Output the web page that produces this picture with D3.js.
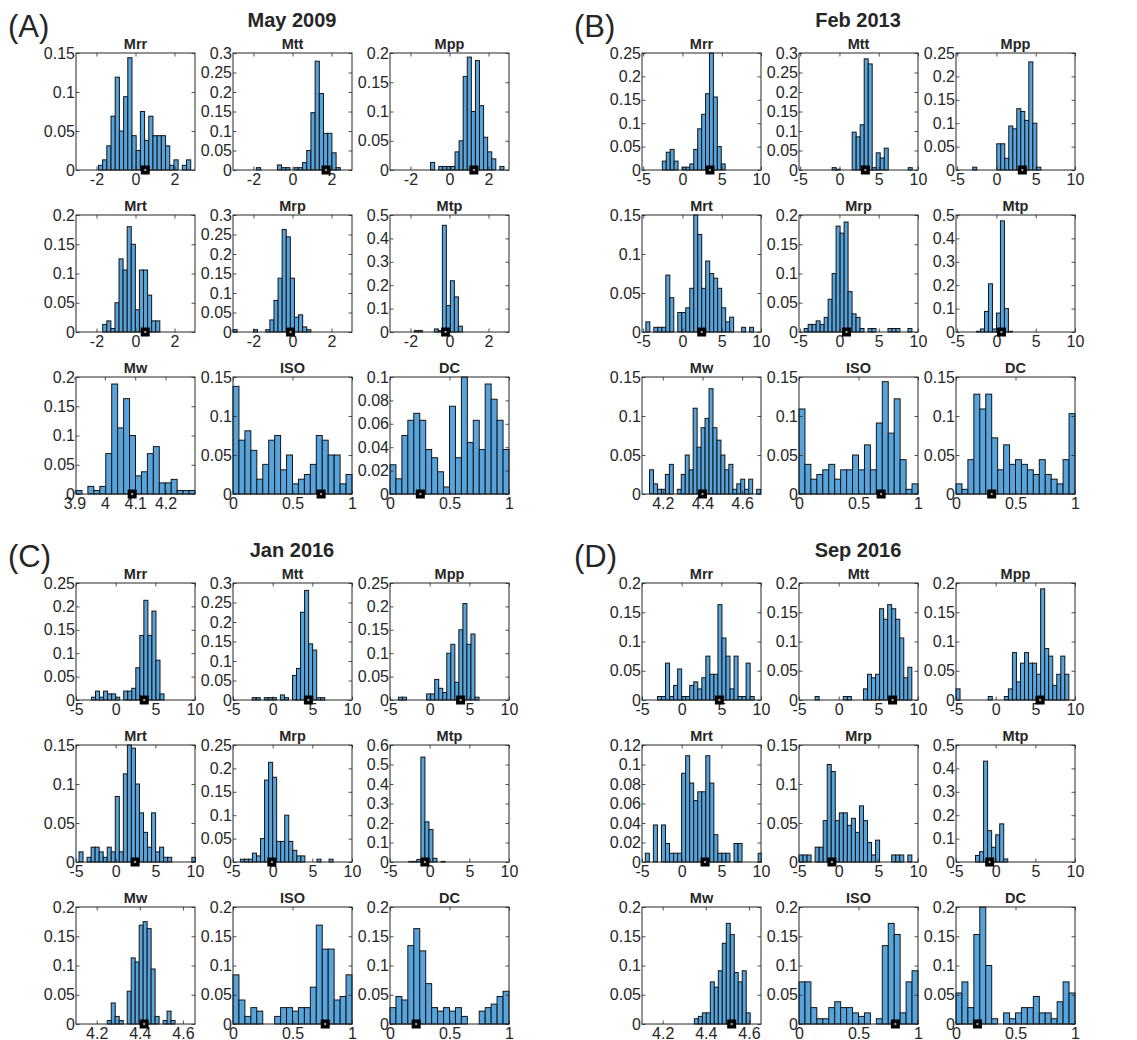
<!DOCTYPE html>
<html>
<head>
<meta charset="utf-8">
<script src="https://cdn.jsdelivr.net/npm/d3@7"></script>
<style>
  body { margin: 0; background: #fff; }
  text { font-family: "Liberation Sans", Arial, Helvetica, sans-serif; fill: #262626; }
</style>
</head>
<body>
<div id="container"></div>
<script>
// ---- data ----
var components = ["Mrr", "Mtt", "Mpp", "Mrt", "Mrp", "Mtp", "Mw", "ISO", "DC"];
var panelLabels = ["(A)", "(B)", "(C)", "(D)"];
var panelTitles = ["May 2009", "Feb 2013", "Jan 2016", "Sep 2016"];

// x tick labels
var momentTicksA = [-2, 0, 2];
var momentTicks = [-5, 0, 5, 10];
var mwTicksA = [3.9, 4, 4.1, 4.2];
var mwTicks = [4.2, 4.4, 4.6];
var fracTicks = [0, 0.5, 1];

// x limits
var momentDomainA = [-3.05, 3.05];
var momentDomainB = [-5.15, 10];
var momentDomainCD = [-5, 10];
var mwDomainA = [3.905, 4.297];
var mwDomainB = [4.095, 4.695];
var mwDomainCD = [4.104, 4.656];
var fracDomain = [0, 1];

// (A) May 2009
var binStartA = [-1.9, -1.85, -0.97, -1.68, -3.05, -1.8, 3.905, 0, 0];
var binWidthA = [0.215, 0.215, 0.209, 0.209, 0.21, 0.205, 0.0196, 0.05, 0.05];
var probA = [
  [0.006, 0.013, 0.031, 0.069, 0.119, 0.05, 0.094, 0.144, 0.044, 0.025, 0.075, 0.038, 0.069, 0.044, 0.044, 0.044, 0.031, 0.006, 0.013, 0, 0.006, 0.013],
  [0.006, 0, 0, 0, 0, 0.013, 0.006, 0.006, 0, 0.006, 0.006, 0.019, 0.05, 0.147, 0.279, 0.196, 0.094, 0.094, 0.044, 0.006],
  [0.013, 0, 0.006, 0.006, 0.006, 0.006, 0.031, 0.05, 0.16, 0.193, 0.1, 0.187, 0.11, 0.056, 0.031, 0.019, 0, 0.006],
  [0.013, 0.019, 0.006, 0.05, 0.125, 0.106, 0.18, 0.15, 0.038, 0.106, 0.106, 0.063, 0.019, 0.019],
  [0.006, 0, 0, 0, 0, 0.006, 0, 0, 0.006, 0.031, 0.081, 0.138, 0.263, 0.244, 0.138, 0.038, 0.044, 0.013, 0.006],
  [0.006, 0.006, 0, 0, 0, 0.013, 0.006, 0.456, 0.113, 0.219, 0.15, 0.025],
  [0.006, 0, 0.013, 0.006, 0.013, 0.069, 0.188, 0.113, 0.163, 0.1, 0.031, 0.038, 0.069, 0.081, 0.019, 0.019, 0.025, 0.006, 0.006, 0.006],
  [0.138, 0.069, 0.081, 0.056, 0.019, 0.038, 0.069, 0.075, 0.031, 0.05, 0.013, 0.019, 0.025, 0.038, 0.075, 0.069, 0.05, 0.05, 0.013, 0.025],
  [0.025, 0.013, 0.05, 0.063, 0.069, 0.063, 0.038, 0.031, 0.019, 0.006, 0.075, 0.031, 0.1, 0.044, 0.063, 0.038, 0.094, 0.081, 0.063, 0.038]
];
var bestA = [0.5, 1.72, 1.25, 0.5, -0.1, -0.2, 4.09, 0.74, 0.255];
var yMaxA = [0.15, 0.3, 0.2, 0.2, 0.3, 0.5, 0.2, 0.15, 0.1];
var yStepA = [0.05, 0.05, 0.05, 0.05, 0.05, 0.1, 0.05, 0.05, 0.02];

// (B) Feb 2013
var binStartB = [-2.56, -0.93, -3.02, -4.66, -4.49, -2.54, 4.133, 0, 0];
var binWidthB = [0.5, 0.51, 0.51, 0.508, 0.508, 0.508, 0.02, 0.05, 0.05];
var probB = [
  [0.019, 0.038, 0.044, 0.019, 0, 0.006, 0.006, 0.013, 0.044, 0.088, 0.119, 0.163, 0.25, 0.156, 0.05, 0.013],
  [0.006, 0.002, 0, 0, 0, 0.097, 0.085, 0.116, 0.285, 0.272, 0.006, 0.044, 0.031, 0.056, 0, 0, 0, 0, 0, 0.006],
  [0.006, 0, 0, 0, 0, 0, 0.056, 0.056, 0.025, 0.094, 0.088, 0.131, 0.125, 0.106, 0.231, 0.1, 0.006],
  [0.013, 0, 0.006, 0.006, 0.006, 0.073, 0.044, 0, 0.025, 0.025, 0.031, 0.056, 0.15, 0.125, 0.056, 0.091, 0.075, 0.069, 0.056, 0.031, 0.013, 0.019, 0, 0, 0.006, 0, 0.006],
  [0.006, 0.013, 0.013, 0.019, 0.013, 0.025, 0.056, 0.1, 0.181, 0.169, 0.188, 0.069, 0.031, 0.025, 0.006, 0, 0.006, 0.006, 0, 0, 0, 0.006, 0.006, 0.006, 0, 0, 0.006],
  [0.003, 0.013, 0.088, 0.206, 0.013, 0.081, 0.475, 0.1, 0.003],
  [0.031, 0.013, 0.006, 0.006, 0.025, 0.038, 0, 0.006, 0.025, 0.05, 0.031, 0.11, 0.06, 0.085, 0.097, 0.135, 0.085, 0.069, 0.05, 0.031, 0.038, 0.006, 0.013, 0.019, 0.006, 0.019, 0, 0.006],
  [0.109, 0.038, 0.019, 0.025, 0.031, 0.038, 0.019, 0.031, 0.031, 0.05, 0.031, 0.063, 0.031, 0.091, 0.144, 0.078, 0.122, 0.044, 0.006, 0.013],
  [0.013, 0.006, 0.044, 0.128, 0.109, 0.128, 0.072, 0.031, 0.063, 0.038, 0.044, 0.038, 0.031, 0.025, 0.044, 0.025, 0.019, 0.013, 0.044, 0.103]
];
var bestB = [3.5, 3.3, 3.3, 2.45, 0.9, 0.64, 4.4, 0.69, 0.3];
var yMaxB = [0.25, 0.3, 0.25, 0.15, 0.2, 0.5, 0.15, 0.15, 0.15];
var yStepB = [0.05, 0.05, 0.05, 0.05, 0.05, 0.1, 0.05, 0.05, 0.05];

// (C) Jan 2016
var binStartC = [-3.05, -2.58, -3.94, -4.62, -4.07, -2.63, 4.249, 0, 0];
var binWidthC = [0.508, 0.508, 0.508, 0.508, 0.508, 0.508, 0.0185, 0.05, 0.05];
var probC = [
  [0.006, 0.019, 0.006, 0.019, 0.013, 0.013, 0.006, 0, 0.019, 0.019, 0.025, 0.069, 0.138, 0.213, 0.138, 0.19, 0.085, 0.013],
  [0.006, 0.006, 0, 0.006, 0.006, 0.006, 0, 0.013, 0.006, 0, 0.063, 0.081, 0.225, 0.281, 0.144, 0.128, 0.006, 0.006],
  [0.006, 0.006, 0, 0, 0, 0, 0, 0.013, 0.013, 0.044, 0.025, 0.016, 0.1, 0.119, 0.038, 0.15, 0.206, 0.119, 0.141, 0.006],
  [0.013, 0, 0.006, 0.019, 0.019, 0.013, 0.006, 0.019, 0.013, 0.084, 0.013, 0.113, 0.15, 0.146, 0.1, 0.063, 0.038, 0.019, 0.063, 0.013, 0.019, 0.006, 0.006, 0, 0, 0, 0, 0, 0.006],
  [0.006, 0.006, 0.006, 0.019, 0.013, 0.05, 0.175, 0.213, 0.181, 0.044, 0.044, 0.1, 0.044, 0.025, 0.013, 0.013, 0, 0, 0, 0.006, 0, 0, 0.006],
  [0.003, 0.003, 0.013, 0.538, 0.206, 0.166, 0.019, 0, 0.003],
  [0.006, 0.036, 0.013, 0.006, 0, 0.056, 0.113, 0.106, 0.169, 0.175, 0.163, 0.094, 0.013, 0, 0.006, 0.022, 0.006],
  [0.084, 0.041, 0.013, 0.028, 0.022, 0, 0, 0.013, 0.028, 0.028, 0.022, 0.028, 0.028, 0.063, 0.169, 0.128, 0.128, 0.041, 0.047, 0.084],
  [0.028, 0.047, 0.041, 0.134, 0.163, 0.125, 0.069, 0.028, 0.022, 0.028, 0.022, 0.028, 0.013, 0, 0, 0.022, 0.028, 0.034, 0.047, 0.056]
];
var bestC = [3.6, 4.5, 3.9, 2.45, -0.1, -0.6, 4.42, 0.775, 0.22];
var yMaxC = [0.25, 0.3, 0.25, 0.15, 0.25, 0.6, 0.2, 0.2, 0.2];
var yStepC = [0.05, 0.05, 0.05, 0.05, 0.05, 0.1, 0.05, 0.05, 0.05];

// (D) Sep 2016
var binStartD = [-3.05, -2.97, -5.0, -4.58, -5.0, -2.54, 4.347, 0, 0];
var binWidthD = [0.508, 0.508, 0.508, 0.508, 0.508, 0.508, 0.0185, 0.05, 0.05];
var probD = [
  [0.006, 0.006, 0.063, 0.006, 0.025, 0.053, 0.006, 0.006, 0.025, 0.031, 0.019, 0.038, 0.075, 0.044, 0.044, 0.163, 0.106, 0.075, 0.019, 0.075, 0.006, 0.006, 0.063, 0.006],
  [0.006, 0, 0, 0, 0, 0, 0, 0.006, 0.006, 0, 0, 0, 0.019, 0.044, 0.038, 0.044, 0.156, 0.138, 0.163, 0.156, 0.138, 0.106, 0.038, 0.056],
  [0.019, 0, 0, 0, 0, 0, 0, 0, 0.006, 0, 0, 0, 0.006, 0.019, 0.081, 0.031, 0.063, 0.081, 0.063, 0.063, 0.044, 0.19, 0.088, 0.075, 0.025, 0.044, 0.075, 0.044],
  [0.009, 0, 0.038, 0, 0.038, 0.019, 0.009, 0.009, 0.009, 0.091, 0.109, 0.081, 0.063, 0.072, 0.072, 0.109, 0.081, 0.028, 0.009, 0.009, 0.009, 0, 0.019, 0.019, 0, 0, 0, 0, 0.009],
  [0.009, 0.009, 0.009, 0, 0.019, 0.019, 0.053, 0.125, 0.116, 0.053, 0.063, 0.063, 0.047, 0.056, 0.038, 0.072, 0.053, 0.025, 0.009, 0.028, 0, 0, 0, 0.009, 0.009, 0.009, 0, 0.009],
  [0.028, 0.044, 0.431, 0.134, 0.063, 0.116, 0.163, 0.013],
  [0.009, 0.013, 0.019, 0.019, 0.072, 0.063, 0.091, 0.138, 0.172, 0.153, 0.088, 0.072, 0.091, 0.019],
  [0.072, 0.072, 0.028, 0.009, 0.009, 0.028, 0.038, 0.028, 0.028, 0.019, 0.013, 0.019, 0, 0.009, 0.134, 0.172, 0.153, 0.019, 0.072, 0.091],
  [0.053, 0.072, 0.028, 0.153, 0.2, 0.1, 0.009, 0, 0.019, 0.009, 0.019, 0.028, 0.028, 0.047, 0.019, 0.019, 0.009, 0.038, 0.072, 0.053]
];
var bestD = [4.75, 6.8, 5.6, 2.95, -0.85, -0.76, 4.52, 0.81, 0.18];
var yMaxD = [0.2, 0.2, 0.2, 0.12, 0.15, 0.5, 0.2, 0.2, 0.2];
var yStepD = [0.05, 0.05, 0.05, 0.02, 0.05, 0.1, 0.05, 0.05, 0.05];

// ---- layout ----
var W = 1137, H = 1040;
var panelX = [0, 566, 0, 566];
var panelY = [0, 0, 530, 530];
var colX = [76, 233, 390];
var rowY = [53, 215, 377];
var boxW = 119, boxH = 117;
var tickLen = 3.5;
var tickFont = "16px";
var barFill = "#57a3db";
var barStroke = "#141414";
var boxStroke = "#262626";

var panels = [
  { start: binStartA, width: binWidthA, prob: probA, best: bestA, yMax: yMaxA, yStep: yStepA,
    xDom: [momentDomainA, mwDomainA, fracDomain], xTicks: [momentTicksA, mwTicksA, fracTicks] },
  { start: binStartB, width: binWidthB, prob: probB, best: bestB, yMax: yMaxB, yStep: yStepB,
    xDom: [momentDomainB, mwDomainB, fracDomain], xTicks: [momentTicks, mwTicks, fracTicks] },
  { start: binStartC, width: binWidthC, prob: probC, best: bestC, yMax: yMaxC, yStep: yStepC,
    xDom: [momentDomainCD, mwDomainCD, fracDomain], xTicks: [momentTicks, mwTicks, fracTicks] },
  { start: binStartD, width: binWidthD, prob: probD, best: bestD, yMax: yMaxD, yStep: yStepD,
    xDom: [momentDomainCD, mwDomainCD, fracDomain], xTicks: [momentTicks, mwTicks, fracTicks] }
];

function fmt(v) {
  return String(+v.toFixed(4));
}

var svg = d3.select("#container").append("svg")
  .attr("width", W)
  .attr("height", H);

panels.forEach(function(p, pi) {
  var pg = svg.append("g")
    .attr("transform", "translate(" + panelX[pi] + "," + panelY[pi] + ")");

  pg.append("text")
    .attr("x", 8).attr("y", 37)
    .style("font-size", "31px")
    .text(panelLabels[pi]);

  pg.append("text")
    .attr("x", 292).attr("y", 27)
    .attr("text-anchor", "middle")
    .style("font-size", "20px").style("font-weight", "bold")
    .text(panelTitles[pi]);

  components.forEach(function(name, ci) {
    var kind = ci < 6 ? 0 : (ci === 6 ? 1 : 2);
    var g = pg.append("g")
      .attr("transform", "translate(" + colX[ci % 3] + "," + rowY[Math.floor(ci / 3)] + ")");

    var x = d3.scaleLinear().domain(p.xDom[kind]).range([0, boxW]);
    var y = d3.scaleLinear().domain([0, p.yMax[ci]]).range([boxH, 0]);
    var yTicks = d3.range(0, p.yMax[ci] + 1e-9, p.yStep[ci]);

    var clipId = "clip" + pi + "_" + ci;
    g.append("clipPath").attr("id", clipId)
      .append("rect").attr("x", -1).attr("y", -1).attr("width", boxW + 2).attr("height", boxH + 2);

    var bins = p.prob[ci].map(function(v, i) {
      return { x0: p.start[ci] + i * p.width[ci], x1: p.start[ci] + (i + 1) * p.width[ci], v: v };
    }).filter(function(d) { return d.v > 0; });

    g.append("g").attr("clip-path", "url(#" + clipId + ")")
      .selectAll("rect.bar")
      .data(bins)
      .enter().append("rect")
        .attr("class", "bar")
        .attr("x", function(d) { return x(d.x0); })
        .attr("width", function(d) { return x(d.x1) - x(d.x0); })
        .attr("y", function(d) { return y(Math.min(d.v, p.yMax[ci])); })
        .attr("height", function(d) { return boxH - y(Math.min(d.v, p.yMax[ci])); })
        .attr("fill", barFill)
        .attr("stroke", barStroke)
        .attr("stroke-width", 1);

    // axes with inward ticks on all four sides
    var xb = g.append("g").attr("transform", "translate(0," + boxH + ")")
      .call(d3.axisBottom(x).tickValues(p.xTicks[kind]).tickSize(-tickLen).tickPadding(4).tickFormat(fmt));
    var xt = g.append("g")
      .call(d3.axisTop(x).tickValues(p.xTicks[kind]).tickSize(-tickLen).tickFormat(""));
    var yl = g.append("g")
      .call(d3.axisLeft(y).tickValues(yTicks).tickSize(-tickLen).tickPadding(1).tickFormat(fmt));
    var yr = g.append("g").attr("transform", "translate(" + boxW + ",0)")
      .call(d3.axisRight(y).tickValues(yTicks).tickSize(-tickLen).tickFormat(""));

    [xb, xt, yl, yr].forEach(function(a) {
      a.select(".domain").remove();
      a.selectAll(".tick line").attr("stroke", boxStroke).attr("stroke-width", 0.8);
      a.selectAll(".tick text")
        .style("font-size", tickFont)
        .style("font-family", "\"Liberation Sans\", Arial, sans-serif")
        .attr("fill", "#262626");
    });

    g.append("rect")
      .attr("width", boxW).attr("height", boxH)
      .attr("fill", "none")
      .attr("stroke", boxStroke)
      .attr("stroke-width", 1);

    g.append("text")
      .attr("x", boxW / 2).attr("y", -4)
      .attr("text-anchor", "middle")
      .style("font-size", "14.5px").style("font-weight", "bold")
      .text(name);

    // best solution marker
    g.append("rect")
      .attr("x", x(p.best[ci]) - 4.5).attr("y", boxH - 4.5)
      .attr("width", 9).attr("height", 9)
      .attr("fill", "#000");
    g.append("circle")
      .attr("cx", x(p.best[ci])).attr("cy", boxH)
      .attr("r", 1.2)
      .attr("fill", "#9a9a9a");
  });
});
</script>
</body>
</html>
